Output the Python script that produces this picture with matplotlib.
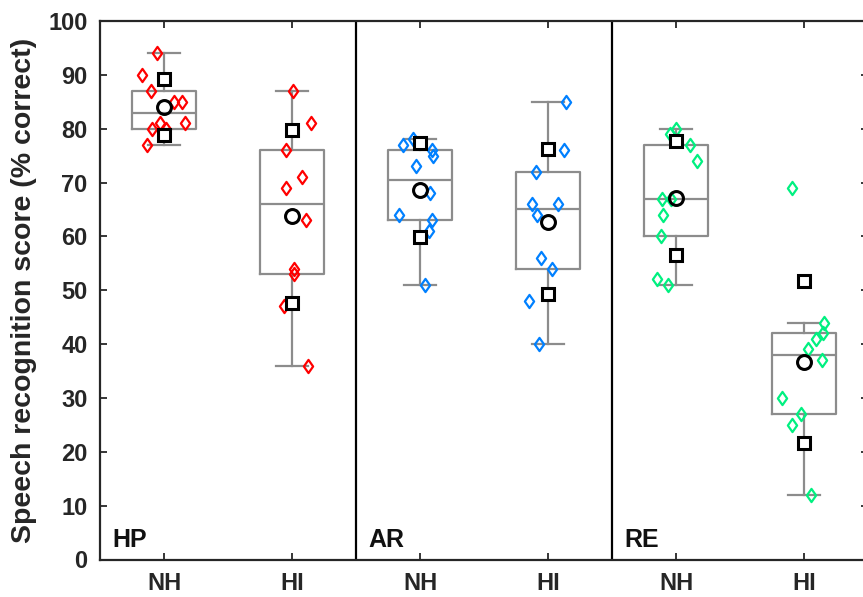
import numpy as np
import matplotlib.pyplot as plt
from matplotlib.path import Path

plt.rcParams['font.family'] = ['Liberation Sans', 'DejaVu Sans']

# 各组数据
groups = ['NH', 'HI', 'NH', 'HI', 'NH', 'HI']
panels = ['HP', 'AR', 'RE']
colors = ['#ff0000', '#ff0000', '#0080ff', '#0080ff', '#00f080', '#00f080']

hp_nh = [94, 90, 87, 85, 85, 81, 81, 80, 80, 77]
hp_hi = [87, 81, 76, 71, 69, 63, 54, 53, 47, 36]
ar_nh = [78, 77, 76, 75, 73, 68, 64, 63, 61, 51]
ar_hi = [85, 76, 72, 66, 66, 64, 56, 54, 48, 40]
re_nh = [80, 79, 77, 74, 67, 67, 64, 60, 52, 51]
re_hi = [69, 44, 42, 41, 39, 37, 30, 27, 25, 12]

# 散点的水平抖动
hp_nh_jit = [-0.057, -0.172, -0.102, 0.078, 0.141, 0.162, -0.031, 0.016, -0.096, -0.135]
hp_hi_jit = [0.01, 0.148, -0.049, 0.08, -0.049, 0.109, 0.016, 0.016, -0.06, 0.127]
ar_nh_jit = [-0.052, -0.13, 0.091, 0.104, -0.031, 0.08, -0.162, 0.091, 0.073, 0.041]
ar_hi_jit = [0.143, 0.127, -0.091, -0.125, 0.08, -0.086, -0.055, 0.031, -0.151, -0.073]
re_nh_jit = [0.0, -0.047, 0.109, 0.166, -0.112, -0.041, -0.099, -0.117, -0.151, -0.06]
re_hi_jit = [-0.091, 0.154, 0.146, 0.096, 0.034, 0.143, -0.17, -0.023, -0.091, 0.055]

data = [hp_nh, hp_hi, ar_nh, ar_hi, re_nh, re_hi]
jitter = [hp_nh_jit, hp_hi_jit, ar_nh_jit, ar_hi_jit, re_nh_jit, re_hi_jit]

# MATLAB 那种较宽的菱形
diamond = Path([(0, 1), (0.7, 0), (0, -1), (-0.7, 0), (0, 1)],
               [Path.MOVETO, Path.LINETO, Path.LINETO, Path.LINETO, Path.CLOSEPOLY])


def box_stats(vals):
    # MATLAB 风格的四分位数
    v = np.sort(np.asarray(vals, dtype=float))
    q1, med, q3 = np.percentile(v, [25, 50, 75], method='hazen')
    iqr = q3 - q1
    lo = v[v >= q1 - 1.5 * iqr].min()
    hi = v[v <= q3 + 1.5 * iqr].max()
    return dict(med=med, q1=q1, q3=q3, whislo=lo, whishi=hi, fliers=[])


fig = plt.figure(figsize=(8.63, 5.97), dpi=100)
ax = fig.add_axes([100 / 863, 1 - 559.5 / 597, 768 / 863, 538.5 / 597])

pos = np.arange(1, 7)
stats = [box_stats(d) for d in data]
gray = '#8c8c8c'
ax.bxp(stats, positions=pos, widths=0.5, showfliers=False,
       boxprops=dict(color=gray, lw=1.6),
       medianprops=dict(color=gray, lw=1.6),
       whiskerprops=dict(color=gray, lw=1.6),
       capprops=dict(color=gray, lw=1.6),
       capwidths=0.25, zorder=2)

for i, (d, j) in enumerate(zip(data, jitter)):
    x = pos[i] + np.array(j)
    ax.plot(x, d, linestyle='none', marker=diamond, mfc='none', mec=colors[i],
            ms=9.5, mew=1.6, zorder=3)
    m = np.mean(d)
    s = np.std(d, ddof=1)
    ax.plot([pos[i], pos[i]], [m - s, m + s], 's', mfc='white', mec='black',
            ms=9, mew=2.2, zorder=4)
    ax.plot(pos[i], m, 'o', mfc='none', mec='black', ms=10, mew=2.2, zorder=4)

for xs in [2.5, 4.5]:
    ax.axvline(xs, color='black', lw=1.6, zorder=1)

for k, p in enumerate(panels):
    ax.text(0.6 + 2 * k, 2.4, p, fontsize=18, fontweight='bold', va='baseline',
            color='#111111')

ax.set_xlim(0.5, 6.5)
ax.set_ylim(0, 100)
ax.set_yticks(np.arange(0, 101, 10))
ax.set_xticks(pos)
ax.set_xticklabels(groups)
ax.tick_params(direction='in', length=5, width=1.3, top=True, right=True,
               labelsize=17, colors='#262626', pad=9)
for lab in ax.get_xticklabels() + ax.get_yticklabels():
    lab.set_fontweight('bold')
for sp in ax.spines.values():
    sp.set_linewidth(1.6)
    sp.set_color('#262626')
ax.set_ylabel('Speech recognition score (% correct)', fontsize=20.5,
              fontweight='bold', color='#262626', labelpad=8)

fig.savefig('out.png', dpi=100)
